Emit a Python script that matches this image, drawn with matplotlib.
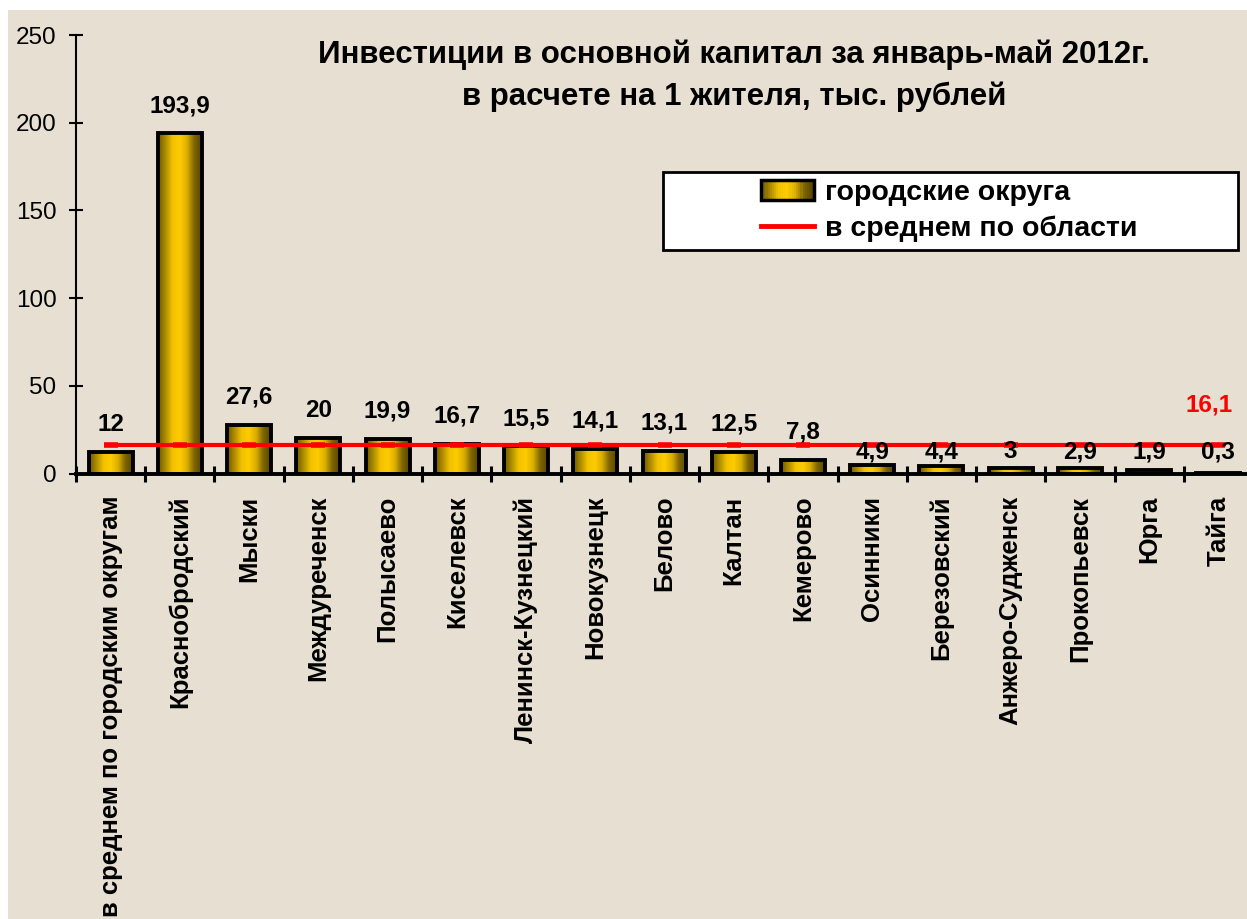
import numpy as np
import matplotlib.pyplot as plt
from matplotlib.colors import LinearSegmentedColormap
from matplotlib.patches import Rectangle
from matplotlib.lines import Line2D
from matplotlib.legend_handler import HandlerBase

plt.rcParams['font.family'] = ['Liberation Sans', 'DejaVu Sans']

# data
categories = ['в среднем по городским округам', 'Краснобродский', 'Мыски',
              'Междуреченск', 'Полысаево', 'Киселевск', 'Ленинск-Кузнецкий',
              'Новокузнецк', 'Белово', 'Калтан', 'Кемерово', 'Осинники',
              'Березовский', 'Анжеро-Судженск', 'Прокопьевск', 'Юрга', 'Тайга']
values = [12, 193.9, 27.6, 20, 19.9, 16.7, 15.5, 14.1, 13.1, 12.5, 7.8,
          4.9, 4.4, 3, 2.9, 1.9, 0.3]
region_avg = [16.1] * len(categories)
title = ('Инвестиции в основной капитал за январь-май 2012г.\n'
         'в расчете на 1 жителя, тыс. рублей')
series_names = ['городские округа', 'в среднем по области']

W, H = 1247, 919
bg = '#e6dfd2'
gold = LinearSegmentedColormap.from_list(
    'gold', ['#6e5800', '#b08e00', '#f2c200', '#ffcc00', '#d9ad00', '#7d6400', '#5a4700'])


def fx(px):
    return px / W


def fy(py):
    return 1 - py / H


class GradHandler(HandlerBase):
    """bar legend key drawn as vertical stripes"""
    def create_artists(self, legend, orig_handle, xdescent, ydescent,
                       width, height, fontsize, trans):
        x0, y0 = -xdescent, -ydescent
        n = 24
        arts = []
        for k in range(n):
            r = Rectangle((x0 + k * width / n, y0), width / n + 0.3, height,
                          facecolor=gold(k / (n - 1)), edgecolor='none',
                          transform=trans)
            arts.append(r)
        arts.append(Rectangle((x0, y0), width, height, facecolor='none',
                              edgecolor='black', lw=2.5, transform=trans))
        return arts


fig = plt.figure(figsize=(W / 100, H / 100), dpi=100, facecolor='white')
fig.patches.append(Rectangle((fx(8), 0), 1, fy(10), transform=fig.transFigure,
                             facecolor=bg, edgecolor='none', zorder=-1))

ax = fig.add_axes([fx(76), fy(473.5), fx(1253) - fx(76), fy(35) - fy(473.5)])
ax.set_facecolor('none')

x = np.arange(len(categories))
bw = 0.635
grad = np.linspace(0, 1, 64).reshape(1, -1)
for xi, v in zip(x, values):
    ax.imshow(grad, extent=[xi - bw / 2, xi + bw / 2, 0, v], aspect='auto',
              cmap=gold, zorder=2, interpolation='bilinear')
ax.bar(x, values, width=bw, fill=False, edgecolor='black', lw=2.8, zorder=3)

ax.plot(x, region_avg, color='#ff0000', lw=3, zorder=4,
        marker='_', markersize=10, mew=4)

# value labels; the ones that would sit on the average line go just under it
for xi, v in zip(x, values):
    txt = f'{v:g}'.replace('.', ',')
    if v < 5:
        xy, off = (xi, 0), 15.5
    else:
        xy, off = (xi, v), 20
    ax.annotate(txt, xy, xytext=(0, off), textcoords='offset points',
                ha='center', va='center', fontsize=17.5, fontweight='bold',
                color='black', zorder=5)
ax.annotate(f'{region_avg[-1]:g}'.replace('.', ','), (x[-1], region_avg[-1]),
            xytext=(-7, 29), textcoords='offset points', ha='center',
            va='center', fontsize=17.5, fontweight='bold', color='#ff0000')

ax.set_xlim(-0.5, len(categories) - 0.5)
ax.set_ylim(0, 250)
ax.set_yticks(np.arange(0, 251, 50))
ax.tick_params(axis='y', direction='inout', length=10, width=1.5,
               labelsize=17.5, pad=9)
ax.set_xticks(x)
ax.set_xticklabels(categories, rotation=90, fontsize=18.5, fontweight='bold',
                   va='top', ha='center')
ax.tick_params(axis='x', which='major', length=0, pad=16)
ax.set_xticks(np.arange(-0.5, len(categories), 1), minor=True)
ax.tick_params(axis='x', which='minor', direction='inout', length=11, width=2.2)

for s in ['top', 'right']:
    ax.spines[s].set_visible(False)
ax.spines['left'].set_linewidth(1.5)
ax.spines['bottom'].set_linewidth(2.8)
ax.spines['bottom'].set_zorder(6)

fig.text(fx(734), fy(40), title, ha='center', va='top', fontsize=22.5,
         fontweight='bold', linespacing=1.45)

# legend box
fig.patches.append(Rectangle((fx(663), fy(250)), fx(1238) - fx(663), fy(172) - fy(250),
                             transform=fig.transFigure, facecolor='white',
                             edgecolor='black', lw=2, zorder=5))
bar_key = Rectangle((0, 0), 1, 1)
line_key = Line2D([], [], color='#ff0000', lw=3.5)
leg = fig.legend([bar_key, line_key], series_names, loc='center left',
                 bbox_to_anchor=(fx(741), fy(211)), frameon=False,
                 prop={'size': 20.5, 'weight': 'bold'}, handlelength=1.85,
                 handleheight=0.75, handletextpad=0.4, labelspacing=0.35,
                 borderpad=0.2, handler_map={Rectangle: GradHandler()})
leg.set_zorder(6)

fig.savefig('out.png', dpi=100)
